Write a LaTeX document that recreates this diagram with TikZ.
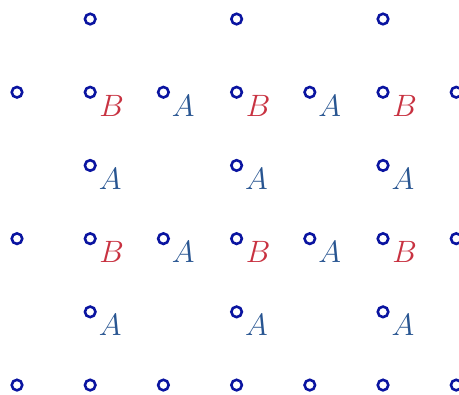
\documentclass[tikz,border=0pt]{standalone}
\usepackage{tikz}
\usetikzlibrary{calc}
\definecolor{siteblue}{RGB}{10,20,160}
\definecolor{labelA}{RGB}{40,85,145}
\definecolor{labelB}{RGB}{200,50,65}

\begin{document}
\begin{tikzpicture}[x=1cm,y=1cm,font=\large,
  site/.style={draw=siteblue,circle,line width=1pt,minimum size=4.1pt,inner sep=0pt},
  labA/.style={text=labelA,anchor=north west,inner sep=0pt},
  labB/.style={text=labelB,anchor=north west,inner sep=0pt}]
  \useasboundingbox (-0.232,-0.123) rectangle (6.038,5.26);
  % lattice sites
  \foreach \j in {0,2,4} \foreach \i in {0,...,6} \node[site](s\i\j) at (\i,\j){};
  \foreach \j in {1,3,5} \foreach \i in {1,3,5} \node[site](s\i\j) at (\i,\j){};
  % sublattice labels
  \foreach \j in {2,4}{
    \foreach \i in {1,3,5} \node[labB](b\i\j) at ($(s\i\j)+(0.12,-0.03)$){$B$};
    \foreach \i in {2,4} \node[labA](a\i\j) at ($(s\i\j)+(0.11,-0.03)$){$A$};
  }
  \foreach \j in {1,3} \foreach \i in {1,3,5} \node[labA](a\i\j) at ($(s\i\j)+(0.11,-0.03)$){$A$};
\end{tikzpicture}
\end{document}
